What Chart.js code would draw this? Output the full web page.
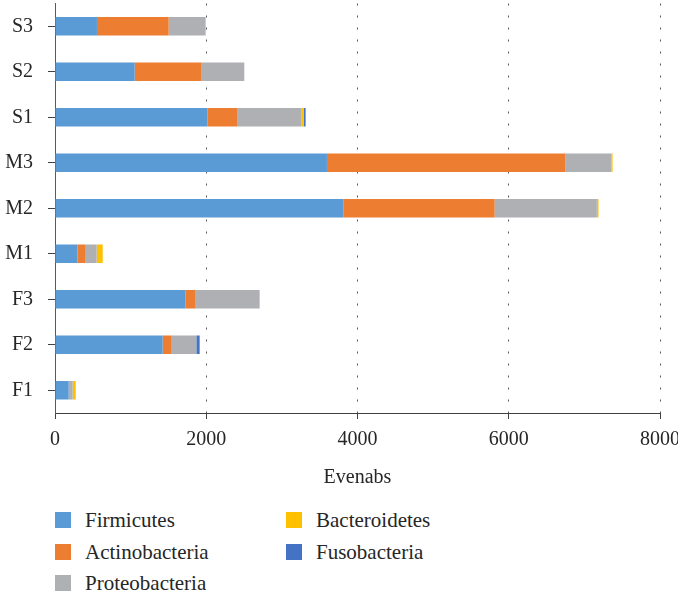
<!DOCTYPE html>
<html>
<head>
<meta charset="utf-8">
<script src="https://cdn.jsdelivr.net/npm/chart.js@4/dist/chart.umd.min.js"></script>
<style>
  html, body { margin: 0; padding: 0; background: #fff; overflow: hidden; width: 678px; height: 597px; }
  #wrap { position: relative; width: 678px; height: 597px; }
  #chart { position: absolute; left: 0; top: 0; }
  #legend { position: absolute; left: 55px; top: 508px; width: 400px; font-family: 'Liberation Serif', serif; font-size: 21px; color: #262626; }
  .item { position: absolute; height: 24px; line-height: 24px; white-space: nowrap; }
  .sw { position: absolute; left: 0; top: 4px; width: 16px; height: 16px; }
  .lbl { position: absolute; left: 30px; top: 0; }
</style>
</head>
<body>
<div id="wrap">
  <canvas id="chart" width="700" height="500"></canvas>
  <div id="legend"></div>
</div>
<script>
// categorias (de cima para baixo) e valores
const samples = ['S3', 'S2', 'S1', 'M3', 'M2', 'M1', 'F3', 'F2', 'F1'];
const firmicutes     = [555, 1054, 2014, 3596, 3812, 296, 1724, 1424, 181];
const actinobacteria = [948, 885, 401, 3155, 2001, 110, 136, 119, 0];
const proteobacteria = [489, 564, 846, 608, 1352, 145, 846, 326, 53];
const bacteroidetes  = [0, 0, 27, 14, 22, 80, 0, 0, 40];
const fusobacteria   = [0, 0, 26, 0, 0, 0, 0, 44, 0];
const xTicks = [0, 2000, 4000, 6000, 8000];

const seriesNames = ['Firmicutes', 'Actinobacteria', 'Proteobacteria', 'Bacteroidetes', 'Fusobacteria'];
const seriesData = [firmicutes, actinobacteria, proteobacteria, bacteroidetes, fusobacteria];
const seriesColors = ['#5B9BD5', '#ED7D31', '#AFB0B4', '#FFC000', '#4472C4'];

const font = { family: "'Liberation Serif', serif", size: 20 };
const ink = '#262626';

new Chart(document.getElementById('chart'), {
    type: 'bar',
    data: {
        labels: samples,
        datasets: seriesNames.map((name, i) => ({
            label: name,
            data: seriesData[i],
            backgroundColor: seriesColors[i],
            borderWidth: 0,
            barPercentage: 0.41,
            categoryPercentage: 1
        }))
    },
    options: {
        indexAxis: 'y',
        responsive: false,
        animation: false,
        devicePixelRatio: 1,
        layout: { padding: { top: 3.5, right: 40, bottom: 0, left: 0 } },
        plugins: { legend: { display: false }, tooltip: { enabled: false } },
        scales: {
            x: {
                stacked: true,
                min: 0,
                max: 8000,
                afterBuildTicks: (scale) => { scale.ticks = xTicks.map(v => ({ value: v })); },
                afterFit: (scale) => { scale.height = 87; },
                ticks: { color: ink, font: font, padding: 9, maxRotation: 0, callback: (v) => String(v) },
                grid: { color: '#595959', lineWidth: 1, tickLength: 6, tickColor: '#404040' },
                border: { display: true, color: '#404040', width: 1, dash: [2, 10] },
                title: { display: true, text: 'Evenabs', color: ink, font: font, padding: { top: 0, bottom: 10 } }
            },
            y: {
                stacked: true,
                afterFit: (scale) => { scale.width = 55; scale.paddingTop = 0; scale.paddingBottom = 0; },
                ticks: { color: ink, font: font, padding: 15 },
                grid: { drawOnChartArea: false, offset: false, tickLength: 7, tickColor: '#404040' },
                border: { display: true, color: '#595959', width: 1 }
            }
        }
    }
});

// legenda em HTML (duas colunas, como no original)
const legend = document.getElementById('legend');
const colX = [0, 231];
const rowY = [0, 32, 63];
const order = [[0, 0, 0], [1, 0, 1], [2, 0, 2], [3, 1, 0], [4, 1, 1]];
order.forEach(([i, c, r]) => {
    const it = document.createElement('div');
    it.className = 'item';
    it.style.left = colX[c] + 'px';
    it.style.top = rowY[r] + 'px';
    it.innerHTML = '<span class="sw" style="background:' + seriesColors[i] + '"></span><span class="lbl">' + seriesNames[i] + '</span>';
    legend.appendChild(it);
});
</script>
</body>
</html>
